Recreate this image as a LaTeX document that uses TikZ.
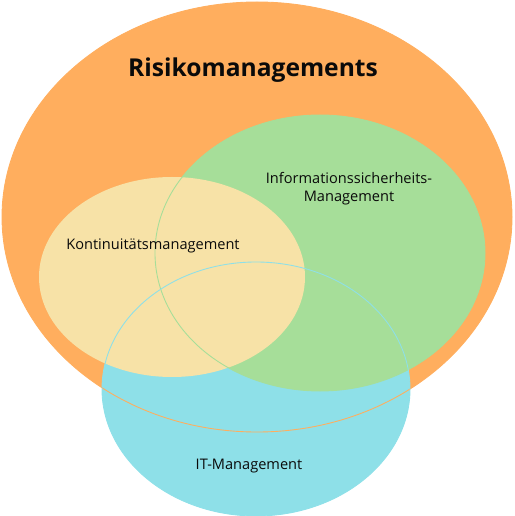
\documentclass[tikz,border=0pt]{standalone}
\usepackage{fontspec}
\setmainfont{Open Sans}
\usepackage{xcolor}
\usepackage{tikz}
\definecolor{risikoorange}{RGB}{255, 174, 94}
\definecolor{infogreen}{RGB}{166, 222, 153}
\definecolor{kontiyellow}{RGB}{247, 226, 167}
\definecolor{itblue}{RGB}{142, 224, 232}
\definecolor{darktext}{RGB}{10, 10, 10}

\begin{document}
\begin{tikzpicture}[x=0.02cm, y=-0.02cm,
    outline/.style={line width=0.5pt},
    label/.style={text=darktext, font=\fontsize{8.3}{10.2}\selectfont, align=center, inner sep=0pt}]
    \useasboundingbox (0,0) rectangle (514,516);
    % fills
    \fill[risikoorange] (257,217) ellipse (255 and 215);
    \fill[itblue] (256,389) ellipse (154 and 127);
    \fill[infogreen] (320,253) ellipse (165 and 138);
    \fill[kontiyellow] (172,277) ellipse (133 and 100);
    % outlines on top
    \draw[outline, risikoorange] (257,217) ellipse (255 and 215);
    \draw[outline, infogreen] (320,253) ellipse (165 and 138);
    \draw[outline, itblue] (256,389) ellipse (154 and 127);
    % labels
    \node[label, font=\fontsize{14}{16}\selectfont\bfseries] (risiko) at (253,70) {Risikomanagements};
    \node[label] (info) at (349,189) {Informationssicherheits-\\Management};
    \node[label] (konti) at (153,246) {Kontinuitätsmanagement};
    \node[label] (it) at (249,466) {IT-Management};
\end{tikzpicture}
\end{document}
